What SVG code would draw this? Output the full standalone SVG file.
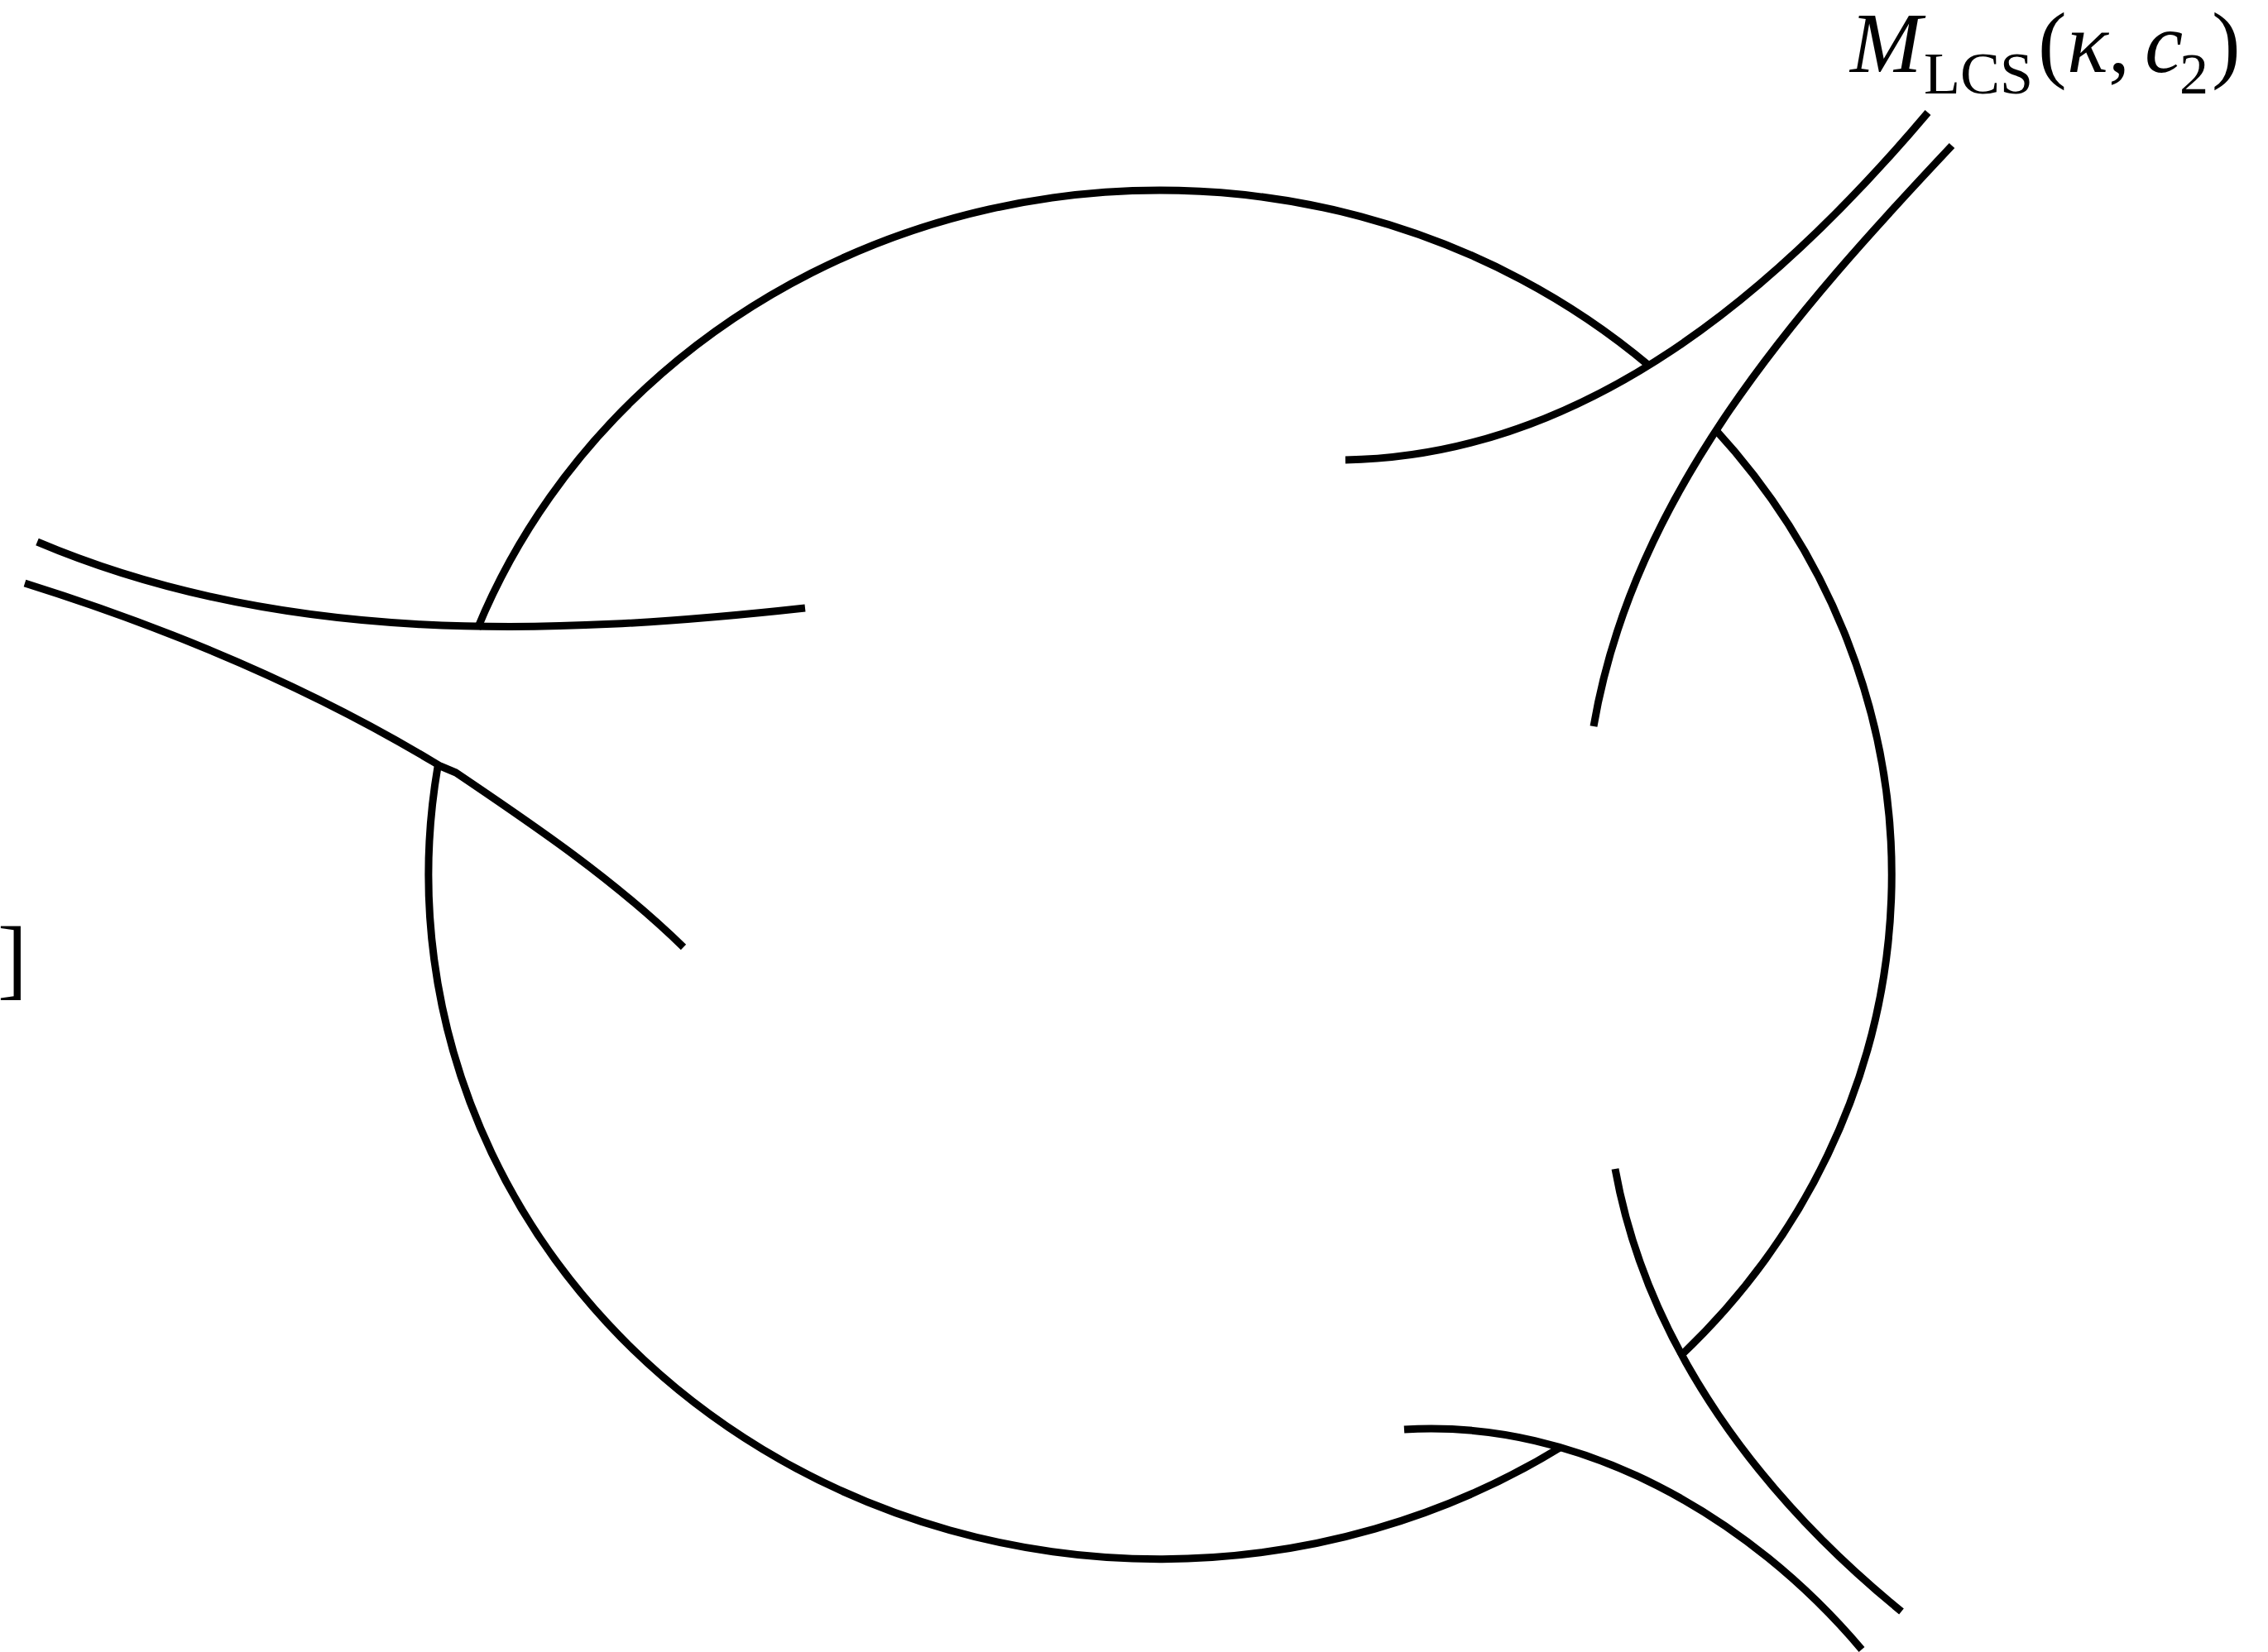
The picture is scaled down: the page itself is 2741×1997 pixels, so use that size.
<svg xmlns="http://www.w3.org/2000/svg" width="2741" height="1997" viewBox="0 0 2741 1997">
<style>
.s{fill:none;stroke:#000;stroke-width:9;stroke-linecap:butt;stroke-linejoin:round}
.t{font-family:"Liberation Serif","Times New Roman",serif;fill:#000}
</style>
<rect width="2741" height="1997" fill="#fff"/>
<g id="loop">
<path class="s" d="M577,760 A884,827 0 0 1 1993,442"/>
<path class="s" d="M2072,518 A884,827 0 0 1 2030,1640"/>
<path class="s" d="M1887,1749 A884,827 0 0 1 529,927"/>
</g>
<g id="connectors">
<path id="strandA" class="s" d="M1626,556 C1919.2,551 2150.8,348 2330,136"/>
<path id="strandB" class="s" d="M2359,176 C2171.2,375.5 1974.3,596 1926,878"/>
<path id="strandC" class="s" d="M45,655 C338.4,779.5 664.3,769 973,735"/>
<path id="strandD" class="s" d="M30,705 C200.6,758.5 368.6,828.1 522,920 L532,926 L551,934 C647.2,998.9 742.6,1063.7 826,1145"/>
<path id="strandE" class="s" d="M1952,1413 C1991.1,1630.2 2131.1,1812 2298,1948"/>
<path id="strandF" class="s" d="M1697,1728 C1911.2,1714.7 2115.6,1834.5 2250,1994"/>
</g>
<g id="label">
<text class="t" font-size="104"><tspan x="2236" y="87" font-style="italic">M</tspan><tspan x="2325" y="113" font-size="72">LCS</tspan><tspan x="2463" y="87">(</tspan><tspan x="2498" y="87" font-style="italic">κ</tspan><tspan x="2548" y="87">,</tspan><tspan x="2592" y="87" font-style="italic">c</tspan><tspan x="2634" y="113" font-size="70">2</tspan><tspan x="2673" y="87">)</tspan></text>
</g>
<g id="bracket">
<text class="t" x="-3" y="1195" font-size="108">]</text>
</g>
</svg>
